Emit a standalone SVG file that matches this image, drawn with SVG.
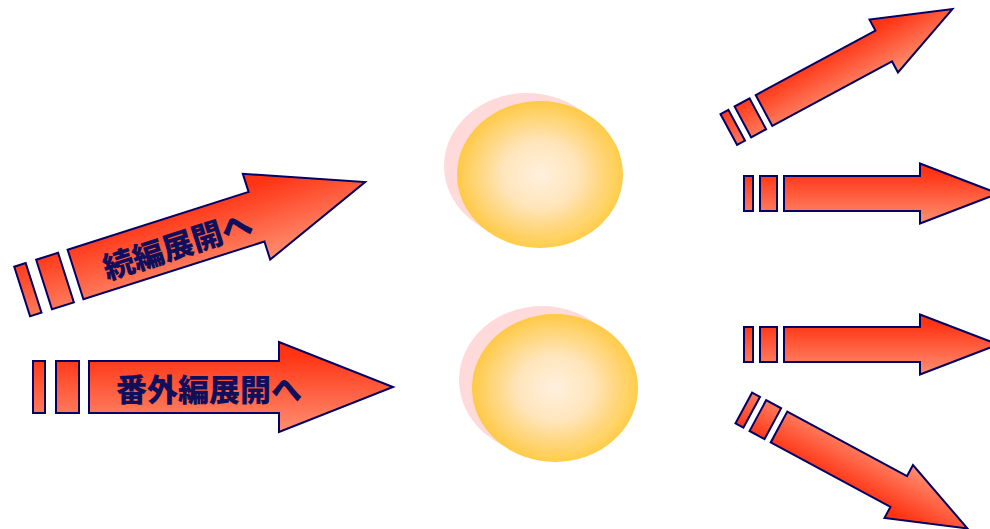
<svg xmlns="http://www.w3.org/2000/svg" width="990" height="529" viewBox="0 0 990 529">
<style>
.arr{stroke:#000066;stroke-width:2;stroke-linejoin:miter}
.aL{fill:url(#gL)}
.aR{fill:url(#gR)}
.lbl{font-family:"Noto Sans CJK JP","Noto Sans CJK SC",sans-serif;font-size:31px;font-weight:900;fill:#0f0f5c;text-anchor:middle}
.sh{fill:#ffd3d3;opacity:0.85}
.ball{fill:url(#gY);opacity:0.92}
</style>
<defs>
<linearGradient id="gL" gradientUnits="userSpaceOnUse" x1="0" y1="-32" x2="0" y2="42">
<stop offset="0" stop-color="#ff3414"/>
<stop offset="1" stop-color="#ff8c6e"/>
</linearGradient>
<linearGradient id="gR" gradientUnits="userSpaceOnUse" x1="0" y1="-21" x2="0" y2="28">
<stop offset="0" stop-color="#ff3414"/>
<stop offset="1" stop-color="#ff8c6e"/>
</linearGradient>
<radialGradient id="gY" cx="0.5" cy="0.5" r="0.5">
<stop offset="0" stop-color="#fff2de"/>
<stop offset="0.45" stop-color="#ffe6b8"/>
<stop offset="1" stop-color="#ffc83a"/>
</radialGradient>
<g id="arrowL" class="arr aL">
<path d="M0,-26 H190 V-45 L304,0 L190,45 V26 H0 Z"/>
<rect x="-33" y="-26" width="23" height="52"/>
<rect x="-56" y="-26" width="12" height="52"/>
</g>
<g id="arrowR" class="arr aR">
<path d="M0,-17.5 H136 V-30 L214,0 L136,30 V17.5 H0 Z"/>
<rect x="-24" y="-17.5" width="17" height="35"/>
<rect x="-40" y="-17.5" width="9" height="35"/>
</g>
</defs>
<g id="ball1">
<ellipse class="sh" cx="527" cy="166" rx="83" ry="73"/>
<ellipse class="ball" cx="540" cy="174.5" rx="83" ry="73.5"/>
</g>
<g id="ball2">
<ellipse class="sh" cx="542" cy="380" rx="83" ry="74"/>
<ellipse class="ball" cx="555" cy="388" rx="83" ry="74"/>
</g>
<g id="connectors">
<g id="arrow-sequel" transform="translate(75.5,274.5) rotate(-17.7)">
<use href="#arrowL"/>
<text class="lbl" x="106" y="15">続編展開へ</text>
</g>
<g id="arrow-extra" transform="translate(89,387)">
<use href="#arrowL"/>
<text class="lbl" x="120" y="14">番外編展開へ</text>
</g>
<g id="out1" transform="translate(764,110.5) rotate(-28.3)"><use href="#arrowR"/></g>
<g id="out2" transform="translate(784,193.5)"><use href="#arrowR"/></g>
<g id="out3" transform="translate(784,344.5)"><use href="#arrowR"/></g>
<g id="out4" transform="translate(779,427) rotate(28.3) scale(1,-1)"><use href="#arrowR"/></g>
</g>
</svg>
